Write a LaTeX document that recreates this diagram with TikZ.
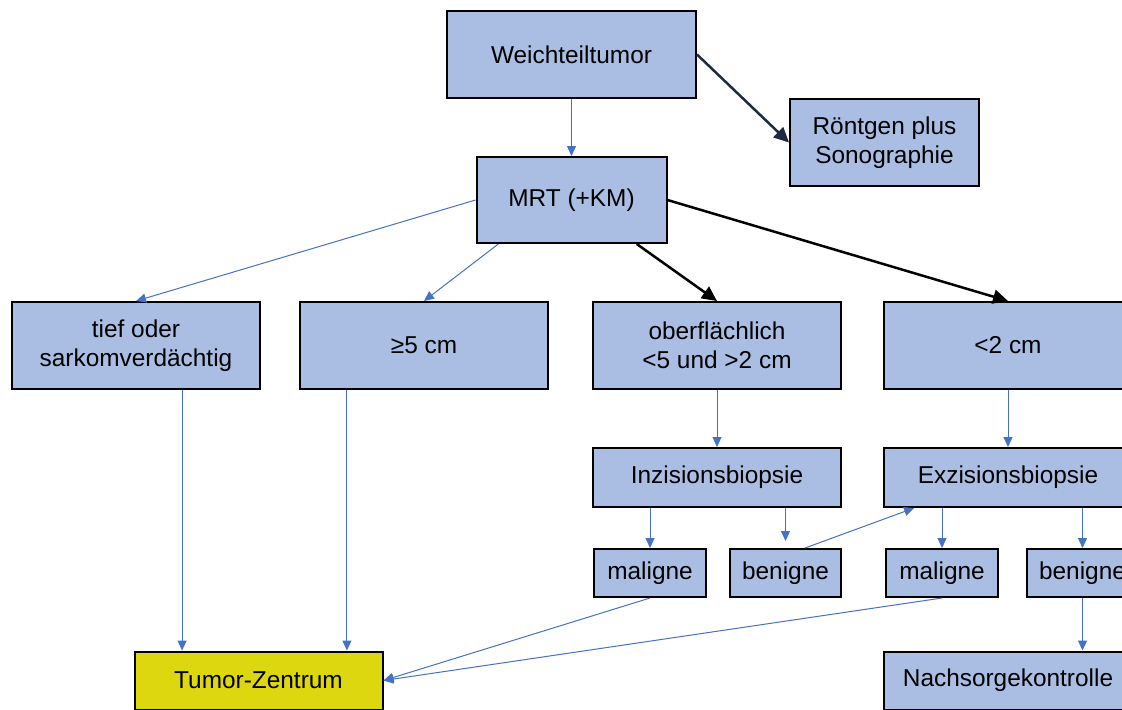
\documentclass[tikz,border=0pt]{standalone}
\usepackage{fontspec}
\setmainfont{Liberation Sans}
\usetikzlibrary{arrows.meta}
\definecolor{box-color}{RGB}{169,190,226}
\definecolor{zentrum-color}{RGB}{221,215,15}
\definecolor{link-color}{RGB}{68,114,196}
\definecolor{navy-color}{RGB}{28,42,66}

\begin{document}
\begin{tikzpicture}[x=0.5pt, y=-0.5pt,
  box/.style={rectangle, draw, line width=1pt, fill=box-color, inner sep=0pt, align=center, font=\fontsize{12.2}{14.5}\selectfont},
  link/.style={->, draw=link-color, line width=0.5pt, >={Triangle[length=5pt, width=4.5pt]}},
  heavy/.style={->, line width=1.25pt, >={Triangle[length=7.5pt, width=7pt]}}]
\useasboundingbox (0,0) rectangle (1122,709);
\clip (0,0) rectangle (1122,709);

\node (weich) [box, minimum width=124.5pt, minimum height=43.5pt] at (571.5,54.5) {Weichteiltumor};
\node (roent) [box, minimum width=94.5pt, minimum height=43.5pt] at (884.5,142.5) {Röntgen plus\\Sonographie};
\node (mrt) [box, minimum width=95pt, minimum height=43pt] at (571.5,200) {MRT (+KM)};
\node (tief) [box, minimum width=124pt, minimum height=43.5pt] at (136,345.5) {tief oder\\sarkomverdächtig};
\node (ge5) [box, minimum width=124pt, minimum height=43.5pt] at (424,345.5) {≥5 cm};
\node (ober) [box, minimum width=124pt, minimum height=43.5pt] at (717,345.5) {oberflächlich\\<5 und >2 cm};
\node (lt2) [box, minimum width=124pt, minimum height=43.5pt] at (1008,345.5) {<2 cm};
\node (inz) [box, minimum width=124pt, minimum height=29.5pt] at (717,477.5) {Inzisionsbiopsie};
\node (exz) [box, minimum width=124pt, minimum height=29.5pt] at (1008,477.5) {Exzisionsbiopsie};
\node (mal1) [box, minimum width=56pt, minimum height=24pt] at (650,573) {maligne};
\node (ben1) [box, minimum width=55.5pt, minimum height=24pt] at (785.5,573) {benigne};
\node (mal2) [box, minimum width=56pt, minimum height=24pt] at (942,573) {maligne};
\node (ben2) [box, minimum width=56pt, minimum height=24pt] at (1082.5,573) {benigne};
\node (tumor) [box, fill=zentrum-color, minimum width=124pt, minimum height=29pt] at (258.5,680.5) {Tumor-Zentrum};
\node (nach) [box, minimum width=124pt, minimum height=29pt] at (1008,680.5) {Nachsorgekontrolle};

% top level
\draw[link] (weich.south) -- (mrt.north);
\draw[heavy, navy-color] (weich.east) -- (roent.west);

% MRT findings
\draw[link] (mrt.west) -- (tief.north);
\draw[link] (mrt.211) -- (ge5.north);
\draw[heavy] (mrt.-34) -- (ober.north);
\draw[heavy] (mrt.east) -- (lt2.north);

% biopsies
\draw[link] (ober.south) -- (inz.north);
\draw[link] (lt2.south) -- (exz.north);
\draw[link] (inz.south -| mal1.north) -- (mal1.north);
\draw[link, shorten >=3.5pt] (inz.south -| ben1.north) -- (ben1.north);
\draw[link] (exz.south -| mal2.north) -- (mal2.north);
\draw[link] (exz.south -| ben2.north) -- (ben2.north);
\draw[link] (ben1.52) -- (exz.198);

% referral
\draw[link] (tief.-44) -- (tief.-44 |- tumor.north);
\draw[link] (ge5.210) -- (ge5.210 |- tumor.north);
\draw[link] (mal1.south) -- (tumor.east);
\draw[link] (mal2.south) -- (tumor.east);
\draw[link] (ben2.south) -- (ben2.south |- nach.north);
\end{tikzpicture}
\end{document}
